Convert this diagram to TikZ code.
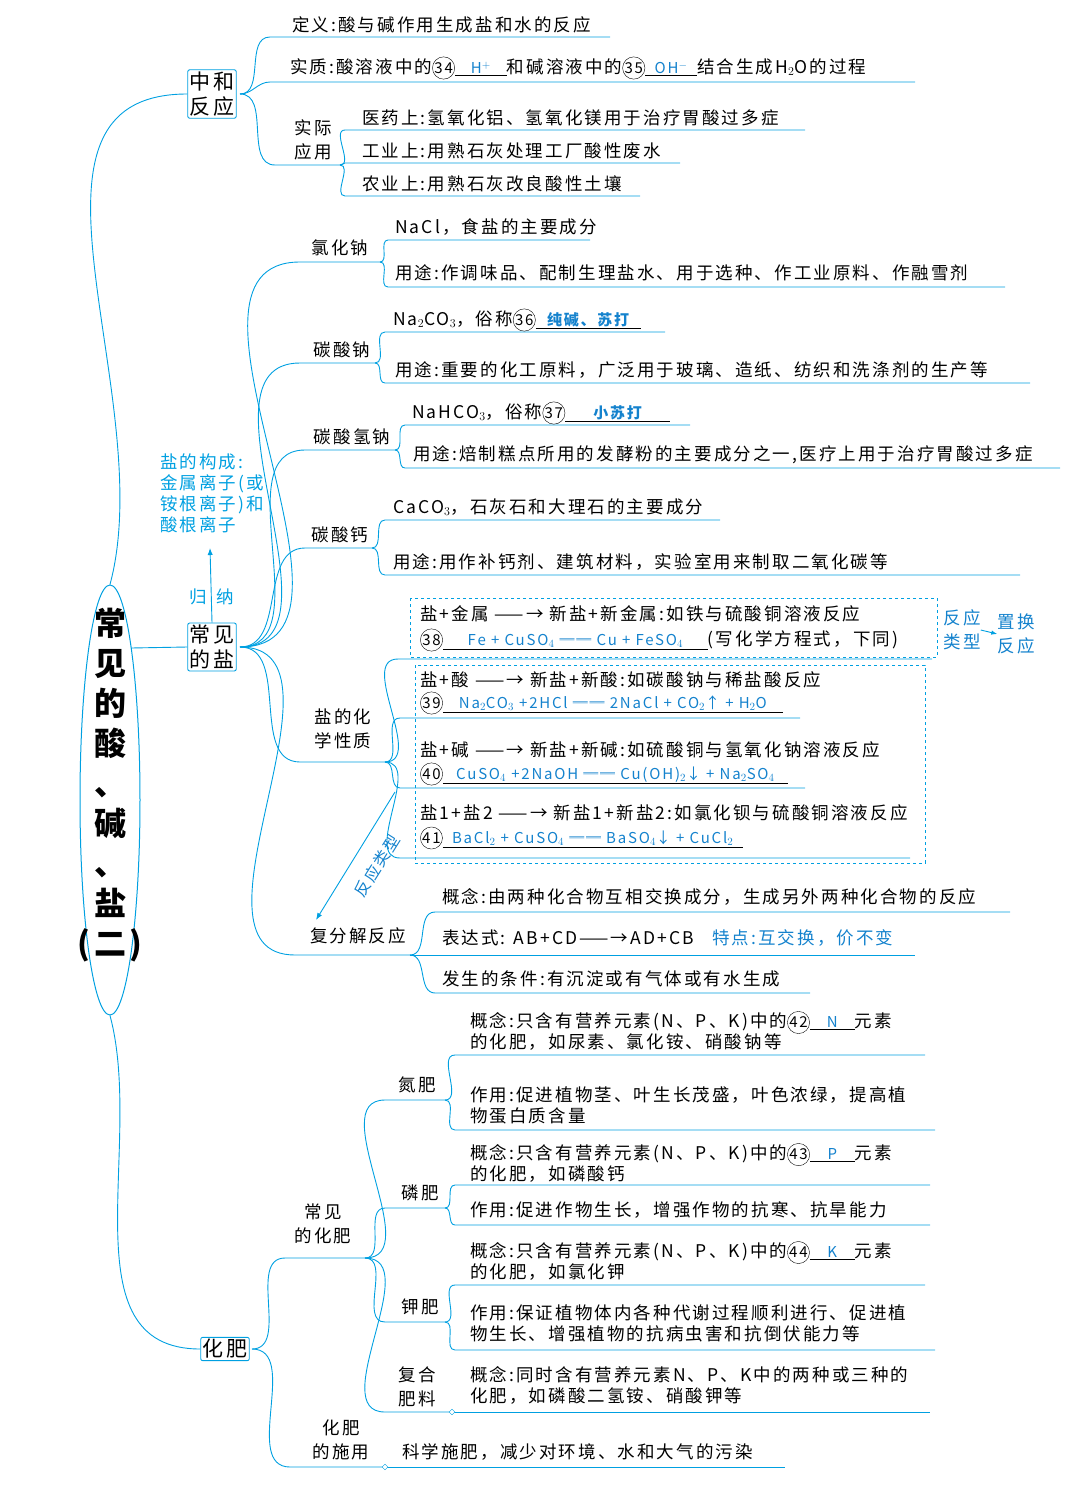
\documentclass[tikz,border=0pt]{standalone}
\usepackage{fontspec}
\setmainfont[LetterSpace=12]{Noto Sans CJK SC}
\usetikzlibrary{arrows.meta,shapes.geometric}
\definecolor{lc}{RGB}{0,160,225}
\definecolor{ab}{RGB}{20,130,205}
\newcommand\cn[1]{\tikz[baseline=(c.base)]\node[draw,circle,inner sep=0.3pt,minimum size=20pt,font=\fontsize{15}{15}\selectfont](c){#1};}
\newcommand\ans[2]{\underline{\makebox[#1]{\color{ab}\fontsize{15}{15}\selectfont #2}}}
\newcommand\br[5]{\draw[ln] (#1,#2) to[out=0,in=180] (#3,#4) -- (#5,#4);}
\tikzset{
 ln/.style={lc,line width=0.9pt},
 t/.style={anchor=west,inner sep=0,font=\fontsize{17.5}{21}\selectfont,align=left},
 lb/.style={inner sep=0,font=\fontsize{17.5}{24}\selectfont,align=center},
 bx/.style={draw=lc,line width=0.9pt,rounded corners=2pt,font=\fontsize{21}{25}\selectfont,align=center,inner sep=2pt},
 dsh/.style={lc,dashed,line width=0.8pt}
}
\begin{document}
\begin{tikzpicture}[x=1pt,y=-1pt]
\useasboundingbox (0,0) rectangle (1080,1504);
% title ellipse
\node[draw=lc,line width=1pt,ellipse,minimum width=60pt,minimum height=430pt] (E) at (110,800) {};
\node[inner sep=0,font=\fontsize{32}{40}\selectfont\bfseries,align=center] (T) at (110,785) {常\\见\\的\\酸\\、\\碱\\、\\盐\\(二)};
\coordinate (Ee) at (131,648);
% boxes
\node[bx] (B1) at (212,94) {中和\\反应};
\node[bx] (B2) at (212,647) {常见\\的盐};
\node[bx] (B3) at (225,1349) {化肥};
\draw[ln] (E.north) to[out=75,in=180] (B1.west);
\draw[ln] (Ee) -- (B2.west);
\draw[ln] (E.south) to[out=-75,in=180] (B3.west);
% 中和反应
\br{240}{94}{270}{37}{610}
\br{240}{94}{270}{82}{915}
\br{240}{94}{275}{165}{340}
\node[t] (a1) at (292,25) {定义:酸与碱作用生成盐和水的反应};
\node[t] (a2) at (290,68) {实质:酸溶液中的\cn{34}\ans{52pt}{H$^+$}和碱溶液中的\cn{35}\ans{52pt}{OH$^-$}结合生成H$_2$O的过程};
\node[lb] (a3) at (313,140) {实际\\应用};
\br{340}{165}{345}{130}{805}
\br{340}{165}{345}{163}{680}
\br{340}{165}{345}{196}{640}
\node[t] at (362,118) {医药上:氢氧化铝、氢氧化镁用于治疗胃酸过多症};
\node[t] at (362,151) {工业上:用熟石灰处理工厂酸性废水};
\node[t] at (362,184) {农业上:用熟石灰改良酸性土壤};
% 盐的构成
\draw[ln,-{Latex[length=7pt]}] (B2.north) -- (210,548);
\node[lb,text=lc] at (198,597) {归};
\node[lb,text=lc] at (225,597) {纳};
\node[t,text=lc] (gc) at (160,493) {盐的构成:\\金属离子(或\\铵根离子)和\\酸根离子};
% 常见的盐 branches
\br{240}{647}{300}{262}{380}
\br{240}{647}{300}{363}{375}
\br{240}{647}{305}{450}{395}
\br{240}{647}{305}{548}{372}
\br{240}{647}{300}{762}{385}
\br{240}{647}{295}{955}{410}
\node[lb] at (340,248) {氯化钠};
\node[lb] at (342,350) {碳酸钠};
\node[lb] at (352,437) {碳酸氢钠};
\node[lb] at (340,535) {碳酸钙};
\node[lb] at (343,729) {盐的化\\学性质};
\node[lb] at (358,936) {复分解反应};
\br{380}{262}{388}{240}{590}
\br{380}{262}{388}{287}{1005}
\node[t] at (395,227) {NaCl，食盐的主要成分};
\node[t] at (395,273) {用途:作调味品、配制生理盐水、用于选种、作工业原料、作融雪剂};
\br{375}{363}{385}{332}{665}
\br{375}{363}{385}{383}{1030}
\node[t] at (393,320) {Na$_2$CO$_3$，俗称\cn{36}\ans{105pt}{\bfseries 纯碱、苏打}};
\node[t] at (395,370) {用途:重要的化工原料，广泛用于玻璃、造纸、纺织和洗涤剂的生产等};
\br{395}{450}{405}{425}{690}
\br{395}{450}{405}{468}{1060}
\node[t] at (412,413) {NaHCO$_3$，俗称\cn{37}\ans{105pt}{\bfseries 小苏打}};
\node[t] at (413,455) {用途:焙制糕点所用的发酵粉的主要成分之一,医疗上用于治疗胃酸过多症};
\br{372}{548}{385}{520}{720}
\br{372}{548}{385}{575}{1020}
\node[t] at (393,507) {CaCO$_3$，石灰石和大理石的主要成分};
\node[t] at (393,562) {用途:用作补钙剂、建筑材料，实验室用来制取二氧化碳等};
% 化学性质
\br{385}{762}{398}{659}{932}
\br{385}{762}{400}{718}{800}
\br{385}{762}{400}{788}{805}
\br{385}{762}{400}{858}{910}
\draw[dsh] (410,598) rectangle (937,657);
\draw[dsh] (415,665) rectangle (925,863);
\node[t] at (420,614) {盐+金属 ——→ 新盐+新金属:如铁与硫酸铜溶液反应};
\node[t] at (420,640) {\cn{38}\ans{265pt}{Fe + CuSO$_4$ ══ Cu + FeSO$_4$}(写化学方程式，下同)};
\node[t] at (420,680) {盐+酸 ——→ 新盐+新酸:如碳酸钠与稀盐酸反应};
\node[t] at (420,703) {\cn{39}\ans{340pt}{Na$_2$CO$_3$ +2HCl ══ 2NaCl + CO$_2$↑ + H$_2$O}};
\node[t] at (420,750) {盐+碱 ——→ 新盐+新碱:如硫酸铜与氢氧化钠溶液反应};
\node[t] at (420,774) {\cn{40}\ans{345pt}{CuSO$_4$ +2NaOH ══ Cu(OH)$_2$↓ + Na$_2$SO$_4$}};
\node[t] at (420,813) {盐1+盐2 ——→ 新盐1+新盐2:如氯化钡与硫酸铜溶液反应};
\node[t] at (420,838) {\cn{41}\ans{300pt}{BaCl$_2$ + CuSO$_4$ ══ BaSO$_4$↓ + CuCl$_2$}};
\node[lb,text=ab] (fl) at (962,630) {反应\\类型};
\node[lb,text=ab] (zh) at (1016,634) {置换\\反应};
\draw[ln,-{Latex[length=6pt]}] (fl.east) -- (zh.west);
\coordinate (r1) at (395,792);
\coordinate (r2) at (316,920);
\draw[ln,-{Latex[length=7pt]}] (r1) -- (r2);
\node[inner sep=0,text=ab,font=\fontsize{16}{16}\selectfont,rotate=58] at (377,866) {反应类型};
% 复分解
\br{410}{955}{435}{912}{1010}
\br{410}{955}{435}{955}{915}
\br{410}{955}{435}{993}{810}
\node[t] at (442,897) {概念:由两种化合物互相交换成分，生成另外两种化合物的反应};
\node[t] at (442,938) {表达式: AB+CD——→AD+CB};
\node[t,text=ab] at (712,938) {特点:互交换，价不变};
\node[t] at (442,979) {发生的条件:有沉淀或有气体或有水生成};
% 化肥
\br{252}{1349}{285}{1258}{365}
\br{252}{1349}{290}{1467}{385}
\node[lb] at (323,1224) {常见\\的化肥};
\node[lb] at (341,1440) {化肥\\的施用};
\br{365}{1258}{385}{1100}{445}
\br{365}{1258}{385}{1208}{445}
\br{365}{1258}{385}{1322}{445}
\br{365}{1258}{385}{1412}{452}
\node[lb] at (417,1085) {氮肥};
\node[lb] at (420,1193) {磷肥};
\node[lb] at (420,1307) {钾肥};
\node[lb] at (417,1387) {复合\\肥料};
\br{445}{1100}{455}{1055}{925}
\br{445}{1100}{455}{1130}{935}
\node[t] at (470,1031) {概念:只含有营养元素(N、P、K)中的\cn{42}\ans{45pt}{N}元素\\的化肥，如尿素、氯化铵、硝酸钠等};
\node[t] at (470,1105) {作用:促进植物茎、叶生长茂盛，叶色浓绿，提高植\\物蛋白质含量};
\br{445}{1208}{455}{1185}{930}
\br{445}{1208}{455}{1225}{930}
\node[t] at (470,1163) {概念:只含有营养元素(N、P、K)中的\cn{43}\ans{45pt}{P}元素\\的化肥，如磷酸钙};
\node[t] at (470,1210) {作用:促进作物生长，增强作物的抗寒、抗旱能力};
\br{445}{1322}{455}{1285}{925}
\br{445}{1322}{455}{1350}{935}
\node[t] at (470,1261) {概念:只含有营养元素(N、P、K)中的\cn{44}\ans{45pt}{K}元素\\的化肥，如氯化钾};
\node[t] at (470,1323) {作用:保证植物体内各种代谢过程顺利进行、促进植\\物生长、增强植物的抗病虫害和抗倒伏能力等};
\draw[ln] (452,1412) -- (930,1412);
\node[t] at (470,1385) {概念:同时含有营养元素N、P、K中的两种或三种的\\化肥，如磷酸二氢铵、硝酸钾等};
\draw[ln] (385,1467) -- (785,1467);
\node[t] at (402,1452) {科学施肥，减少对环境、水和大气的污染};
\node[draw=lc,fill=white,diamond,inner sep=1.5pt] at (452,1412) {};
\node[draw=lc,fill=white,diamond,inner sep=1.5pt] at (385,1467) {};
\end{tikzpicture}
\end{document}
